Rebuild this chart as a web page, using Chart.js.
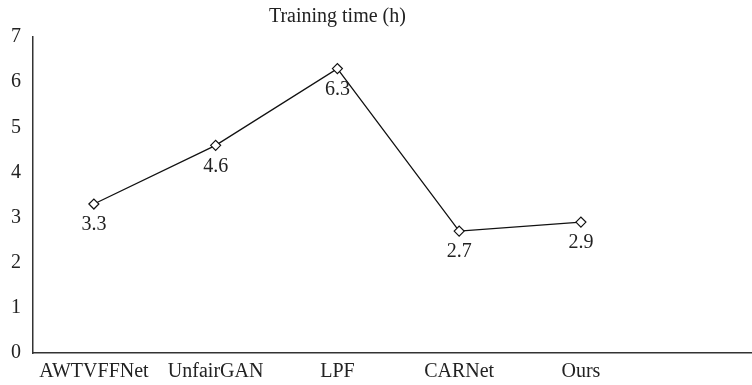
<!DOCTYPE html>
<html>
<head>
<meta charset="utf-8">
<script src="https://cdn.jsdelivr.net/npm/chart.js@4/dist/chart.umd.min.js"></script>
<style>
  html, body { margin: 0; padding: 0; background: #fff; }
  #wrap { width: 752px; height: 385px; position: relative; }
</style>
</head>
<body>
<div id="wrap"><canvas id="c"></canvas></div>
<script>
const categories = ["AWTVFFNet", "UnfairGAN", "LPF", "CARNet", "Ours"];
const trainingHours = [3.3, 4.6, 6.3, 2.7, 2.9];
const yTicks = [0, 1, 2, 3, 4, 5, 6, 7];
const chartTitle = "Training time (h)";

const FONT = "'Liberation Serif', 'Times New Roman', serif";

const labelPlugin = {
  id: 'labels',
  afterDatasetsDraw(chart) {
    const ctx = chart.ctx;
    const meta = chart.getDatasetMeta(0);
    ctx.save();
    ctx.font = "20px " + FONT;
    ctx.fillStyle = "#222";
    ctx.textAlign = "center";
    ctx.textBaseline = "middle";
    meta.data.forEach((pt, i) => {
      ctx.fillText(String(trainingHours[i]), pt.x, pt.y + 21);
    });
    const xs = chart.scales.x;
    const cx = (xs.getPixelForValue(0) + xs.getPixelForValue(categories.length - 1)) / 2;
    ctx.fillText(chartTitle, cx, 17);
    ctx.restore();
  }
};

new Chart(document.getElementById('c'), {
  type: 'line',
  data: {
    datasets: [{
      data: trainingHours.map((v, i) => ({ x: i, y: v })),
      borderColor: '#111',
      borderWidth: 1.3,
      pointStyle: 'rectRot',
      pointRadius: 5,
      pointBackgroundColor: '#fff',
      pointBorderColor: '#111',
      pointBorderWidth: 1.2,
      tension: 0,
      clip: false
    }]
  },
  options: {
    responsive: true,
    maintainAspectRatio: false,
    animation: false,
    layout: { autoPadding: false, padding: { top: 37, right: 1, left: 0, bottom: -6 } },
    plugins: { legend: { display: false }, tooltip: { enabled: false }, title: { display: false } },
    scales: {
      x: {
        type: 'linear',
        min: -0.5,
        max: 5.397,
        afterBuildTicks(axis) { axis.ticks = categories.map((c, i) => ({ value: i })); },
        afterFit(axis) { axis.paddingRight = 0; axis.paddingLeft = 0; },
        ticks: {
          callback: (v) => categories[v] !== undefined ? categories[v] : '',
          font: { family: FONT, size: 20 },
          color: '#222',
          padding: 7,
          maxRotation: 0,
          autoSkip: false
        },
        grid: { display: false, drawTicks: false },
        border: { display: true, color: '#333', width: 1.5 }
      },
      y: {
        min: 0,
        max: 7,
        afterBuildTicks(axis) { axis.ticks = yTicks.map(v => ({ value: v })); },
        afterFit(axis) { axis.width = 33; },
        ticks: {
          font: { family: FONT, size: 20 },
          color: '#222',
          padding: 12
        },
        grid: { display: false, drawTicks: false },
        border: { display: true, color: '#333', width: 1.5 }
      }
    }
  },
  plugins: [labelPlugin]
});
</script>
</body>
</html>
